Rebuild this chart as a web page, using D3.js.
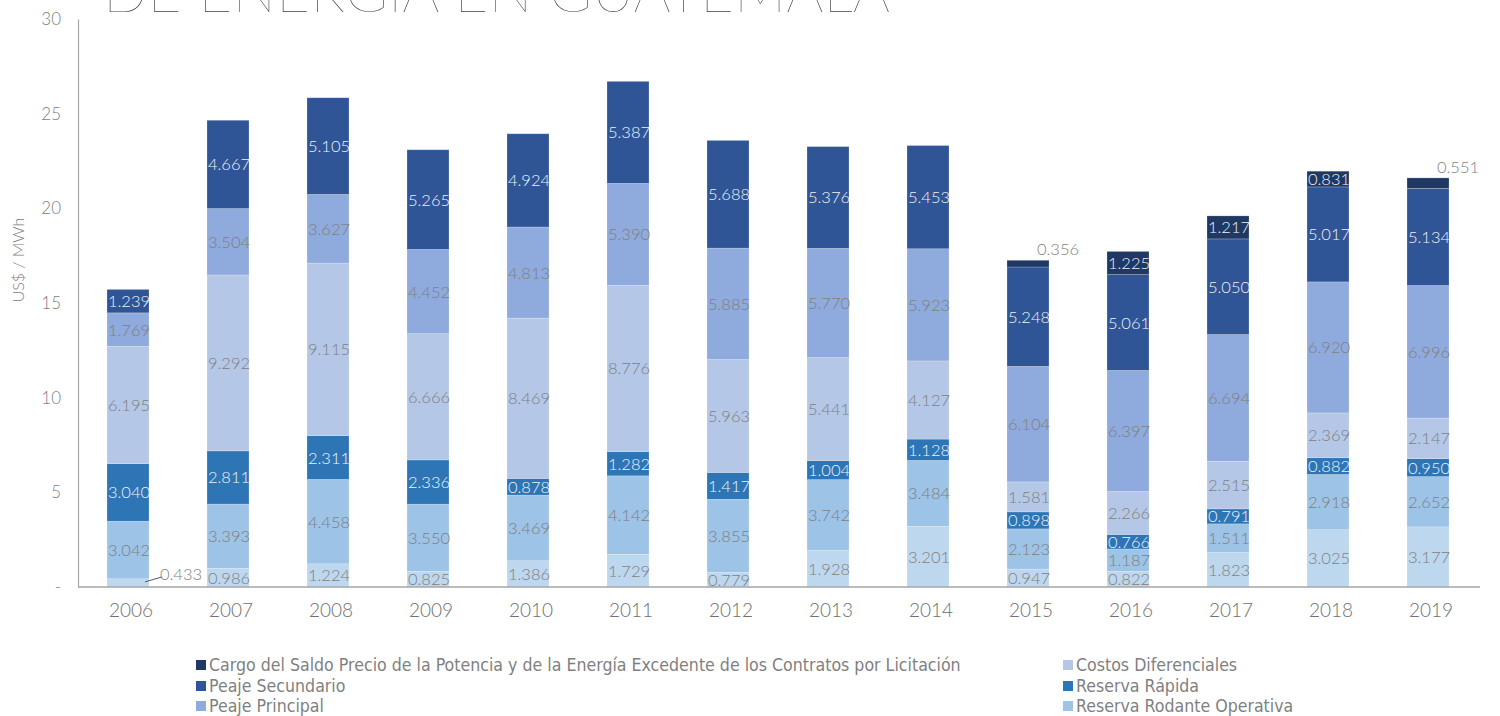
<!DOCTYPE html>
<html>
<head>
<meta charset="utf-8">
<script src="https://cdn.jsdelivr.net/npm/d3@7"></script>
<style>
body { margin: 0; background: #fff; }
text { font-family: Lato, "Open Sans", sans-serif; font-weight: 300; }
</style>
</head>
<body>
<div id="my_dataviz"></div>
<script>
// data, stacked bottom -> top
var years = ["2006","2007","2008","2009","2010","2011","2012","2013","2014","2015","2016","2017","2018","2019"];
var base         = [0.433,0.986,1.224,0.825,1.386,1.729,0.779,1.928,3.201,0.947,0.822,1.823,3.025,3.177];
var rodante      = [3.042,3.393,4.458,3.550,3.469,4.142,3.855,3.742,3.484,2.123,1.187,1.511,2.918,2.652];
var rapida       = [3.040,2.811,2.311,2.336,0.878,1.282,1.417,1.004,1.128,0.898,0.766,0.791,0.882,0.950];
var diferencial  = [6.195,9.292,9.115,6.666,8.469,8.776,5.963,5.441,4.127,1.581,2.266,2.515,2.369,2.147];
var principal    = [1.769,3.504,3.627,4.452,4.813,5.390,5.885,5.770,5.923,6.104,6.397,6.694,6.920,6.996];
var secundario   = [1.239,4.667,5.105,5.265,4.924,5.387,5.688,5.376,5.453,5.248,5.061,5.050,5.017,5.134];
var cargo        = [0,0,0,0,0,0,0,0,0,0.356,1.225,1.217,0.831,0.551];
var yTicks = [0,5,10,15,20,25,30];

var seriesKeys = ["base","rodante","rapida","diferencial","principal","secundario","cargo"];
var seriesNames = {
    cargo: "Cargo del Saldo Precio de la Potencia y de la Energía Excedente de los Contratos por Licitación",
    secundario: "Peaje Secundario",
    principal: "Peaje Principal",
    diferencial: "Costos Diferenciales",
    rapida: "Reserva Rápida",
    rodante: "Reserva Rodante Operativa"
};
var colors = {
    base: "#bdd7ee", rodante: "#9dc3e6", rapida: "#2e75b6", diferencial: "#b4c7e7",
    principal: "#8faadc", secundario: "#2f5597", cargo: "#1f3864"
};
var darkKeys = ["rapida","secundario","cargo"];

var table = years.map(function(y, i) {
    return { year: y, base: base[i], rodante: rodante[i], rapida: rapida[i], diferencial: diferencial[i],
             principal: principal[i], secundario: secundario[i], cargo: cargo[i] };
});

var width = 1500, height = 716;

var svg = d3.select("#my_dataviz")
    .append("svg")
    .attr("width", width)
    .attr("height", height);

// title (cut off at top in the source)
svg.append("text")
    .attr("x", 103)
    .attr("y", 12)
    .attr("textLength", 787)
    .attr("lengthAdjust", "spacingAndGlyphs")
    .style("font-size", "58px")
    .style("font-weight", 100)
    .style("fill", "#404040")
    .text("DE ENERGÍA EN GUATEMALA");

var x = d3.scaleBand()
    .domain(years)
    .range([78, 1478])
    .paddingInner(0.58)
    .paddingOuter(0.29);

var y = d3.scaleLinear()
    .domain([0, 30])
    .range([587, 19]);

// Y axis
var yAxis = svg.append("g")
    .attr("transform", "translate(78,0)")
    .call(d3.axisLeft(y).tickValues(yTicks).tickSize(0).tickPadding(17)
        .tickFormat(function(d) { return d === 0 ? "-" : d; }));
yAxis.select(".domain").attr("stroke", "#a6a6a6").attr("stroke-width", 1.2);
yAxis.selectAll("text").style("font-size", "17px").style("fill", "#808080").style("font-family", "Lato");

svg.append("text")
    .attr("transform", "translate(24,260) rotate(-90)")
    .attr("text-anchor", "middle")
    .style("font-size", "16px")
    .style("fill", "#808080")
    .text("US$ / MWh");

// bars
var stacked = d3.stack().keys(seriesKeys)(table);

var layers = svg.selectAll("g.layer")
    .data(stacked)
    .enter()
    .append("g")
    .attr("class", "layer")
    .attr("fill", function(d) { return colors[d.key]; });

layers.selectAll("rect")
    .data(function(d) { return d; })
    .enter()
    .append("rect")
    .attr("x", function(d) { return x(d.data.year); })
    .attr("y", function(d) { return y(d[1]); })
    .attr("width", x.bandwidth())
    .attr("height", function(d) { return y(d[0]) - y(d[1]); })
    .attr("stroke", "#ffffff")
    .attr("stroke-opacity", 0.35)
    .attr("stroke-width", 0.6);

// X axis (baseline)
var xAxis = svg.append("g")
    .attr("transform", "translate(0,587)")
    .call(d3.axisBottom(x).tickSize(0).tickSizeOuter(0).tickPadding(17));
xAxis.select(".domain").attr("stroke", "#a6a6a6").attr("stroke-width", 1.5).attr("d", "M78,0H1480");
xAxis.selectAll(".tick text")
    .attr("dx", 3)
    .style("font-size", "19px")
    .style("fill", "#6f6f6f")
    .style("font-family", "Lato");

// data labels
stacked.forEach(function(layer) {
    layer.forEach(function(d) {
        var v = d.data[layer.key];
        if (!v) return;
        var h = y(d[0]) - y(d[1]);
        var cx = x(d.data.year) + x.bandwidth() / 2 + 1;
        var cy = (y(d[0]) + y(d[1])) / 2;
        var fill = darkKeys.indexOf(layer.key) >= 0 ? "#eef2f8" : "#7f7f7f";
        if (h < 11) {
            fill = "#7f7f7f";
            if (layer.key === "base") {
                var right = x(d.data.year) + x.bandwidth();
                svg.append("line")
                    .attr("x1", right - 4).attr("y1", cy - 1)
                    .attr("x2", right + 13).attr("y2", cy - 6)
                    .attr("stroke", "#595959").attr("stroke-width", 1);
                cx = right + 32;
                cy = cy - 9;
            } else {
                cx = x(d.data.year) + x.bandwidth() + 9;
                cy = y(d[1]) - 11;
            }
        }
        svg.append("text")
            .attr("x", cx)
            .attr("y", cy)
            .attr("text-anchor", "middle")
            .attr("dominant-baseline", "central")
            .style("font-size", "16.5px")
            .style("fill", fill)
            .text(v.toFixed(3));
    });
});

// legend
var legendItems = [
    { key: "cargo", x: 196, y: 665 },
    { key: "secundario", x: 196, y: 686 },
    { key: "principal", x: 196, y: 706 },
    { key: "diferencial", x: 1063, y: 665 },
    { key: "rapida", x: 1063, y: 686 },
    { key: "rodante", x: 1063, y: 706 }
];
var legend = svg.selectAll("g.legend")
    .data(legendItems)
    .enter()
    .append("g")
    .attr("class", "legend")
    .attr("transform", function(d) { return "translate(" + d.x + "," + d.y + ")"; });
legend.append("rect")
    .attr("x", 0).attr("y", -5)
    .attr("width", 10).attr("height", 10)
    .attr("fill", function(d) { return colors[d.key]; });
legend.append("text")
    .attr("x", 13)
    .attr("y", 0)
    .attr("dominant-baseline", "central")
    .style("font-family", "'Liberation Sans Narrow', 'DejaVu Sans Condensed', sans-serif")
    .style("font-size", "17.6px")
    .style("fill", "#7f7f7f")
    .text(function(d) { return seriesNames[d.key]; });
</script>
</body>
</html>
